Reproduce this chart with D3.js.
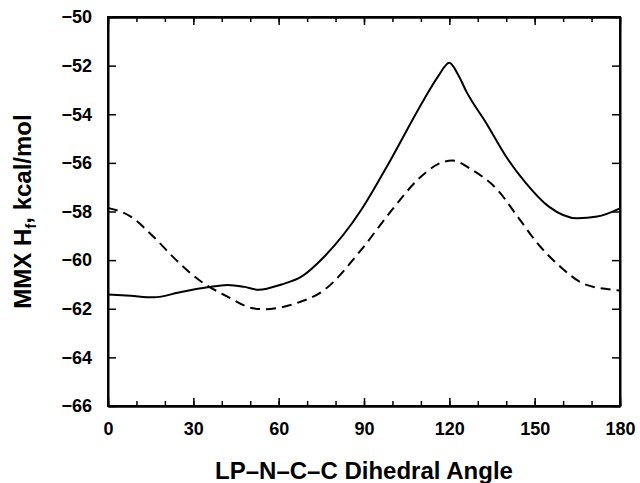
<!DOCTYPE html>
<html>
<head>
<meta charset="utf-8">
<script src="https://cdn.jsdelivr.net/npm/d3@7"></script>
</head>
<body style="margin:0">
<div id="wrap" style="position:relative;width:640px;height:483px">
<svg id="chart" width="640" height="483" font-family="Liberation Sans, Arial, sans-serif" style="position:absolute;left:0;top:0"></svg>
<div id="frame" style="position:absolute;box-sizing:border-box;border:2px solid #000"></div>
</div>
<script>
// solid curve
const solidAngle = [0, 8, 16, 26, 35, 42, 48, 53, 61, 68, 76, 89, 98, 111, 116, 120, 123, 126, 133, 140, 147, 155, 165, 172, 180];
const solidHf = [-61.41, -61.47, -61.53, -61.3, -61.12, -61.02, -61.1, -61.22, -61.0, -60.68, -59.86, -57.94, -56.16, -53.41, -52.45, -51.88, -52.35, -53.07, -54.37, -55.75, -56.84, -57.8, -58.28, -58.21, -57.87];

// dashed curve
const dashAngle = [0, 8, 16, 24, 32, 42, 51, 55, 59, 66, 76, 89, 99, 110, 116, 121, 128, 137, 144, 151, 159, 167, 176, 180];
const dashHf = [-57.85, -58.21, -59.04, -60.0, -60.82, -61.5, -61.98, -62.02, -61.98, -61.78, -61.23, -59.58, -58.06, -56.57, -56.05, -55.9, -56.29, -57.12, -58.21, -59.31, -60.27, -60.96, -61.2, -61.25];

const xTicks = [0, 30, 60, 90, 120, 150, 180];
const xMinor = [0, 10, 20, 30, 40, 50, 60, 70, 80, 90, 100, 110, 120, 130, 140, 150, 160, 170, 180];
const yTicks = [-66, -64, -62, -60, -58, -56, -54, -52, -50];

const margin = { top: 17, right: 20, bottom: 77, left: 108 };
const W = 640, H = 483;

const svg = d3.select("#chart");

const x = d3.scaleLinear().domain([0, 180]).range([margin.left, W - margin.right]);
const y = d3.scaleLinear().domain([-66, -50]).range([H - margin.bottom, margin.top]);

const fmt = (d) => String(d).replace("-", "\u2212");

// frame box placed from the scales
d3.select("#frame")
  .style("left", (x(0) - 1) + "px").style("top", (y(-50) - 1) + "px")
  .style("width", (x(180) - x(0) + 2) + "px").style("height", (y(-66) - y(-50) + 2) + "px");

// axes; domain paths also form the frame
function bold(g) {
  g.selectAll("line").attr("stroke", "#000").attr("stroke-width", 1.5);
  g.select(".domain").attr("stroke", "#000").attr("stroke-width", 2);
  g.selectAll("text").attr("font-size", 18).attr("font-weight", "bold").attr("fill", "#000")
    .attr("font-family", "Liberation Sans, Arial, sans-serif");
}

svg.append("g")
  .attr("transform", `translate(0,${y(-66)})`)
  .call(d3.axisBottom(x).tickValues(xMinor).tickSize(-5).tickSizeOuter(0).tickFormat(""))
  .call(bold);
svg.append("g")
  .attr("transform", `translate(0,${y(-50)})`)
  .call(d3.axisTop(x).tickValues(xMinor).tickSize(-5).tickSizeOuter(0).tickFormat(""))
  .call(bold);

svg.append("g")
  .attr("transform", `translate(0,${y(-66)})`)
  .call(d3.axisBottom(x).tickValues(xTicks).tickSize(-8).tickSizeOuter(0).tickPadding(16).tickFormat((d) => d))
  .call(bold);
svg.append("g")
  .attr("transform", `translate(0,${y(-50)})`)
  .call(d3.axisTop(x).tickValues(xTicks).tickSize(-8).tickSizeOuter(0).tickFormat(""))
  .call(bold);

svg.append("g")
  .attr("transform", `translate(${x(0)},0)`)
  .call(d3.axisLeft(y).tickValues(yTicks).tickSize(-8).tickSizeOuter(0).tickPadding(16).tickFormat(fmt))
  .call(bold);
svg.append("g")
  .attr("transform", `translate(${x(180)},0)`)
  .call(d3.axisRight(y).tickValues(yTicks).tickSize(-8).tickSizeOuter(0).tickFormat(""))
  .call(bold);

// curves
const line = d3.line()
  .x((d) => x(d[0]))
  .y((d) => y(d[1]))
  .curve(d3.curveMonotoneX);

svg.append("path")
  .datum(d3.zip(solidAngle, solidHf))
  .attr("d", line)
  .attr("fill", "none").attr("stroke", "#000").attr("stroke-width", 2);

svg.append("path")
  .datum(d3.zip(dashAngle, dashHf))
  .attr("d", line)
  .attr("fill", "none").attr("stroke", "#000").attr("stroke-width", 2)
  .attr("stroke-dasharray", "10,6");

// axis titles
svg.append("text")
  .attr("x", (x(0) + x(180)) / 2).attr("y", 479)
  .attr("text-anchor", "middle")
  .attr("font-size", 24).attr("font-weight", "bold")
  .text("LP\u2013N\u2013C\u2013C Dihedral Angle");

const yt = svg.append("text")
  .attr("transform", `translate(31,${(y(-50) + y(-66)) / 2}) rotate(-90)`)
  .attr("text-anchor", "middle")
  .attr("font-size", 24).attr("font-weight", "bold");
yt.append("tspan").text("MMX H");
yt.append("tspan").attr("dy", 5).attr("font-size", 15).text("f");
yt.append("tspan").attr("dy", -5).text(", kcal/mol");
</script>
</body>
</html>
